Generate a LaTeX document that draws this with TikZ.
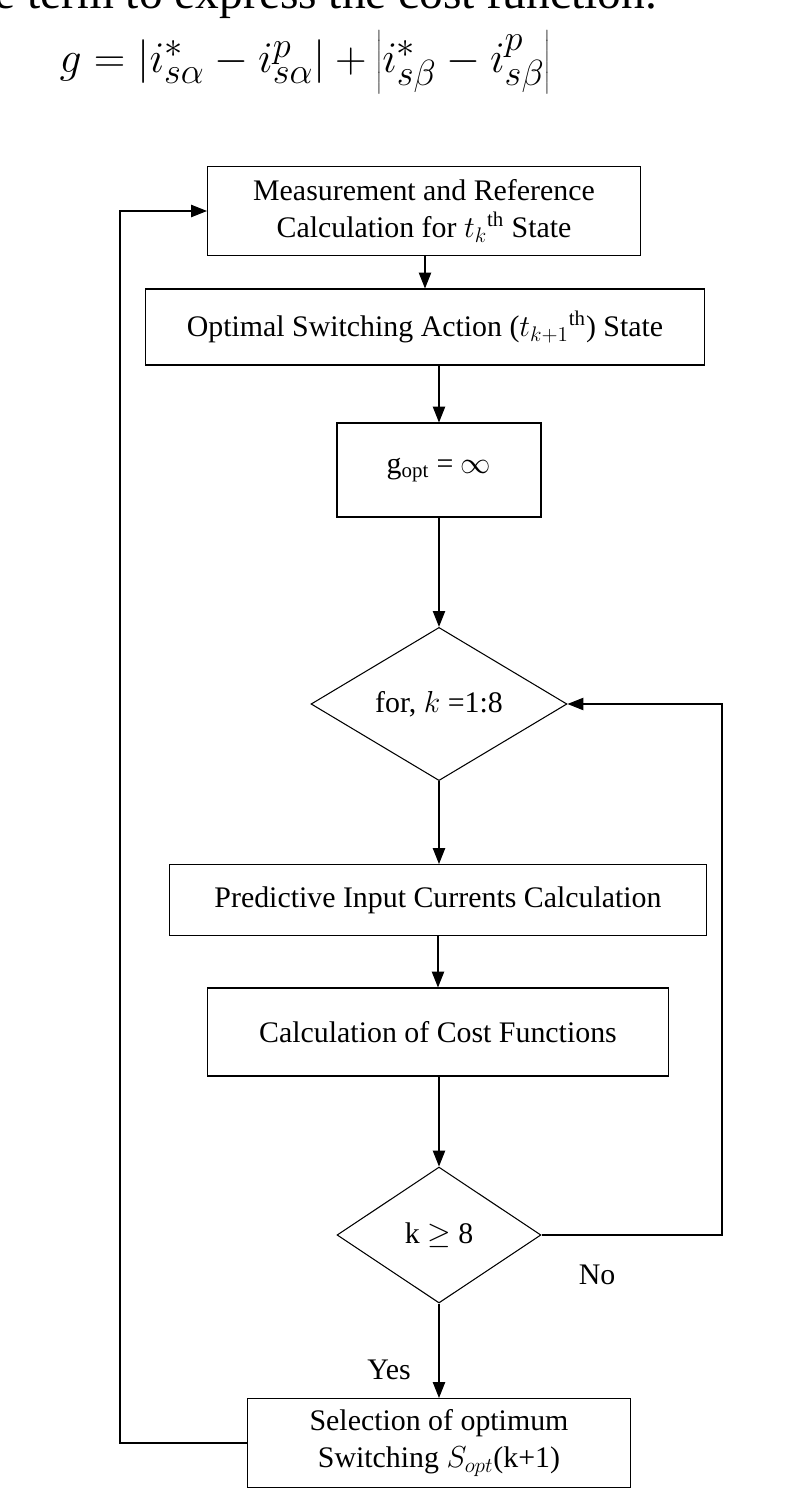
\documentclass[tikz,border=0pt]{standalone}
\usepackage{fontspec}
\setmainfont{Liberation Serif}
\usetikzlibrary{shapes.geometric,arrows.meta}

\tikzset{
  stepbox/.style={draw, semithick, inner sep=0pt, align=center, font=\fontsize{17}{21}\selectfont},
  decision/.style={draw, semithick, diamond, inner sep=0pt, font=\fontsize{17}{21}\selectfont},
  flow/.style={semithick, -{Triangle[length=9pt,width=7pt]}}
}

\begin{document}
\begin{tikzpicture}[x=0.02cm, y=-0.02cm]
  \useasboundingbox (0,0) rectangle (807,1498);

  % Cost function above the chart
  \node[anchor=base west, font=\fontsize{27}{30}\selectfont] (intro) at (-12,8) {e term to express the cost function.};
  \node[font=\fontsize{30}{34}\selectfont] (costfn) at (305,62)
    {$g=\left|\vphantom{\bigg|}i^{*}_{s\alpha}-i^{p}_{s\alpha}\right|+\left|\vphantom{\bigg|}i^{*}_{s\beta}-i^{p}_{s\beta}\right|$};

  % Steps of the algorithm
  \node[stepbox, minimum width=8.66cm, minimum height=1.78cm] (meas) at (424,211)
    {Measurement and Reference\\Calculation for $t_k$\textsuperscript{th} State};
  \node[stepbox, minimum width=11.2cm, minimum height=1.52cm] (optim) at (425,327)
    {Optimal Switching Action ($t_{k+1}$\textsuperscript{th}) State};
  \node[stepbox, minimum width=4.08cm, minimum height=1.88cm] (ginit) at (439,470)
    {g\textsubscript{opt} = $\infty$};
  \node[decision, minimum width=5.12cm, minimum height=2.68cm] (loop) at (439,704)
    {for, $k$ =1:8};
  \node[stepbox, minimum width=10.74cm, minimum height=1.42cm] (pred) at (438,900)
    {Predictive Input Currents Calculation};
  \node[stepbox, minimum width=9.22cm, minimum height=1.76cm] (cost) at (438,1032)
    {Calculation of Cost Functions};
  \node[decision, minimum width=4.08cm, minimum height=2.72cm] (check) at (439,1235)
    {k $\geq$ 8};
  \node[stepbox, minimum width=7.68cm, minimum height=1.78cm] (select) at (439,1443)
    {Selection of optimum\\Switching $S_{opt}$(k+1)};

  % Connectors
  \draw[flow] (meas.south -| optim) -- (optim);
  \draw[flow] (optim.south -| ginit) -- (ginit);
  \draw[flow] (ginit) -- (loop);
  \draw[flow] (loop) -- (pred.north -| loop);
  \draw[flow] (pred.south -| cost) -- (cost);
  \draw[flow] (cost.south -| check) -- (check);
  \draw[flow] (check) -- (select);
  \draw[flow] (check.east) -- (722,1235) |- (loop.east);
  \draw[flow] (select.west) -- (120,1443) |- (meas.west);

  % Branch labels
  \node[font=\fontsize{17}{21}\selectfont] (no) at (597,1275) {No};
  \node[font=\fontsize{17}{21}\selectfont] (yes) at (389,1370) {Yes};
\end{tikzpicture}
\end{document}
